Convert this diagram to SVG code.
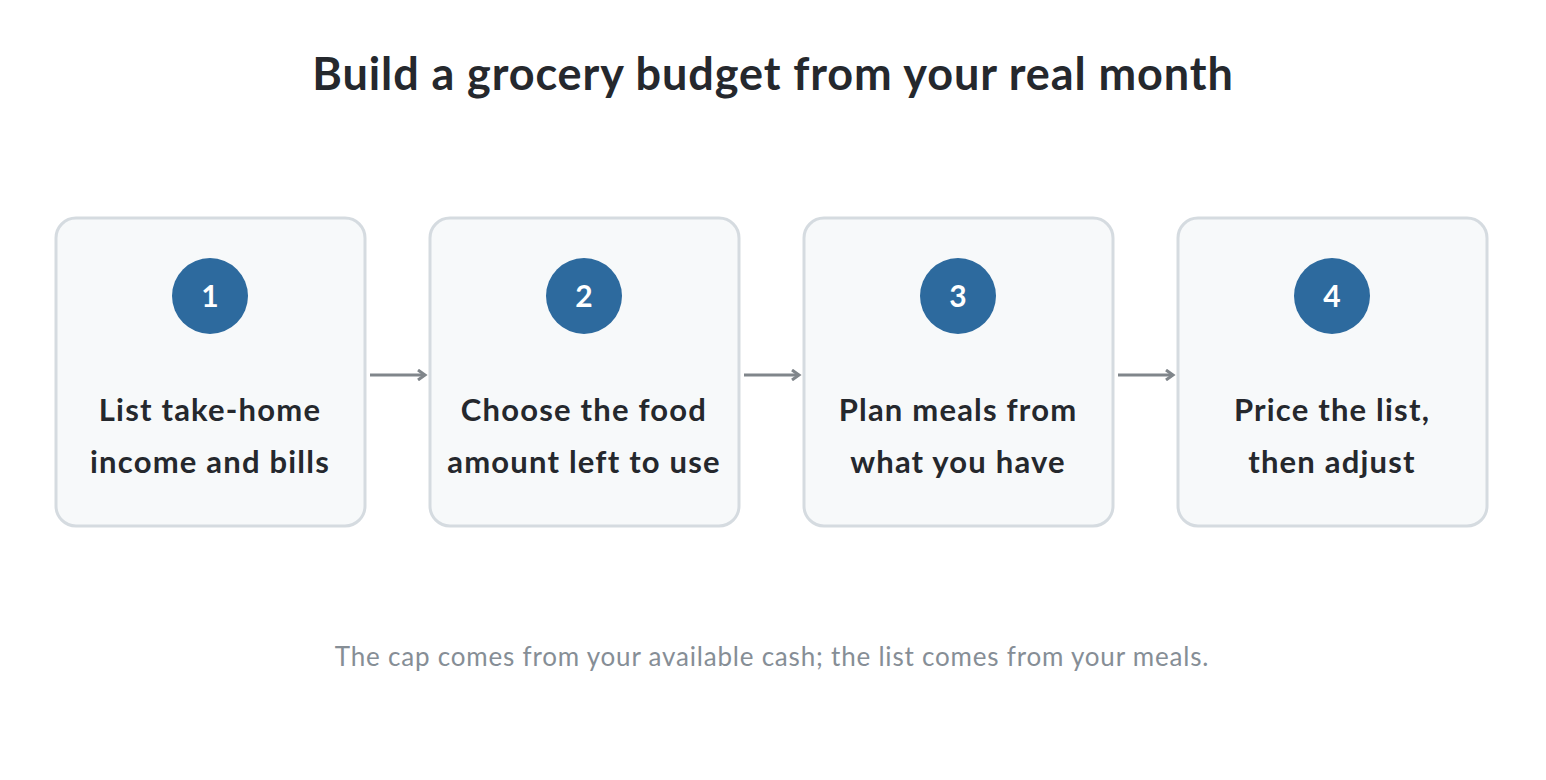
<svg xmlns="http://www.w3.org/2000/svg" width="1546" height="780" viewBox="0 0 1546 780">
<defs>
<style>
.title{font-family:Lato,"Noto Sans",sans-serif;font-weight:700;font-size:45px;letter-spacing:0.9px;fill:#25282d;text-anchor:middle}
.box{fill:#f7f9fa;stroke:#d5dbe0;stroke-width:3}
.badge{fill:#2d6a9e}
.num{font-family:Lato,"Noto Sans",sans-serif;font-weight:700;font-size:30px;fill:#ffffff;text-anchor:middle}
.lbl{font-family:Lato,"Noto Sans",sans-serif;font-weight:700;font-size:31px;letter-spacing:1.2px;fill:#25282d;text-anchor:middle}
.foot{font-family:Lato,"Noto Sans",sans-serif;font-size:26px;letter-spacing:0.8px;fill:#868e96;text-anchor:middle}
.conn{stroke:#80868b;stroke-width:3;fill:none}
</style>
<marker id="arr" markerWidth="12" markerHeight="12" refX="9" refY="6" orient="auto" markerUnits="userSpaceOnUse">
<path d="M2,1 L9,6 L2,11" fill="none" stroke="#80868b" stroke-width="3"/>
</marker>
</defs>
<rect width="1546" height="780" fill="#ffffff"/>
<text class="title" x="773" y="90">Build a grocery budget from your real month</text>
<g id="connectors">
<line class="conn" x1="370" y1="375" x2="425" y2="375" marker-end="url(#arr)"/>
<line class="conn" x1="744" y1="375" x2="799" y2="375" marker-end="url(#arr)"/>
<line class="conn" x1="1118" y1="375" x2="1173" y2="375" marker-end="url(#arr)"/>
</g>
<g id="step1">
<rect class="box" x="56" y="218" width="309" height="308" rx="20"/>
<circle class="badge" cx="210" cy="296" r="38"/>
<text class="num" x="210" y="307">1</text>
<text class="lbl" x="210" y="421">List take-home</text>
<text class="lbl" x="210" y="473">income and bills</text>
</g>
<g id="step2">
<rect class="box" x="430" y="218" width="309" height="308" rx="20"/>
<circle class="badge" cx="584" cy="296" r="38"/>
<text class="num" x="584" y="307">2</text>
<text class="lbl" x="584" y="421">Choose the food</text>
<text class="lbl" x="584" y="473">amount left to use</text>
</g>
<g id="step3">
<rect class="box" x="804" y="218" width="309" height="308" rx="20"/>
<circle class="badge" cx="958" cy="296" r="38"/>
<text class="num" x="958" y="307">3</text>
<text class="lbl" x="958" y="421">Plan meals from</text>
<text class="lbl" x="958" y="473">what you have</text>
</g>
<g id="step4">
<rect class="box" x="1178" y="218" width="309" height="308" rx="20"/>
<circle class="badge" cx="1332" cy="296" r="38"/>
<text class="num" x="1332" y="307">4</text>
<text class="lbl" x="1332" y="421">Price the list,</text>
<text class="lbl" x="1332" y="473">then adjust</text>
</g>
<text class="foot" x="772" y="666">The cap comes from your available cash; the list comes from your meals.</text>
</svg>
